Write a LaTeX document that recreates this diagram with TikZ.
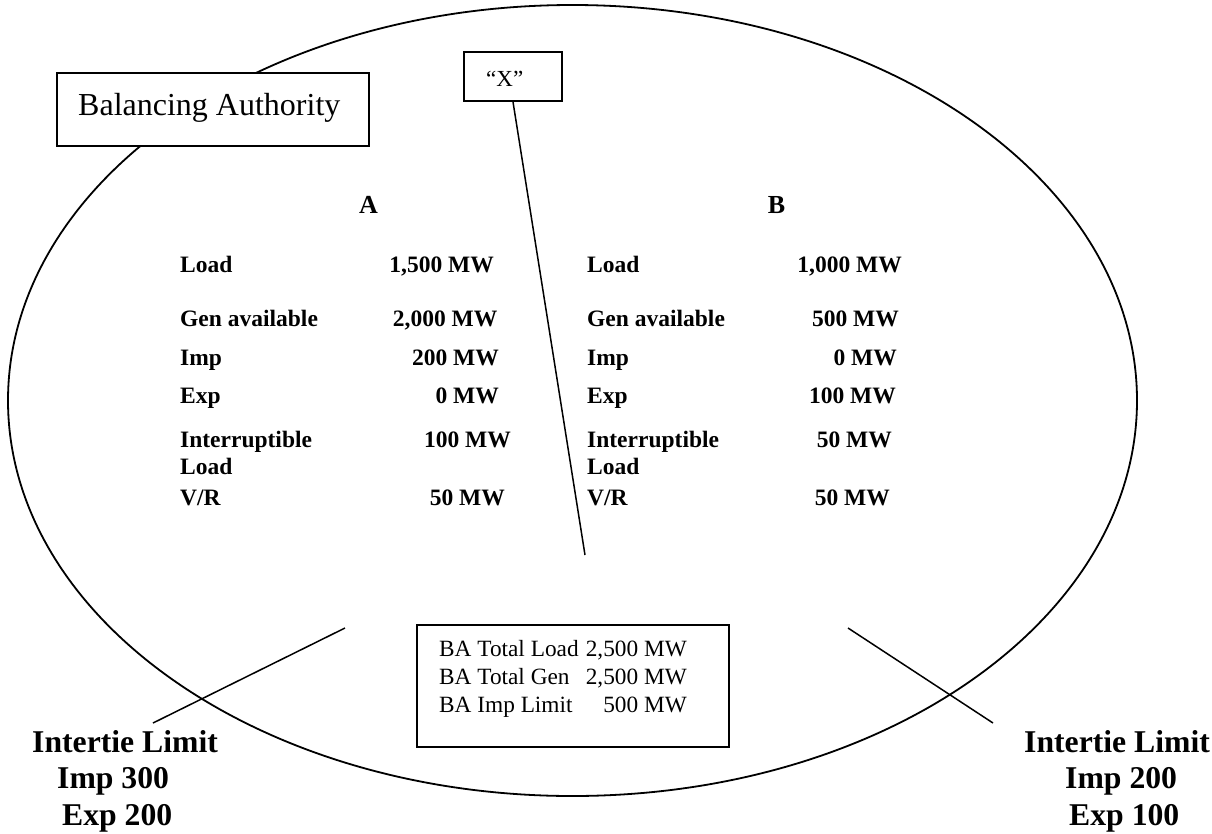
\documentclass[tikz,border=0pt]{standalone}
\usepackage{fontspec}
\setmainfont{Liberation Serif}
\begin{document}
\begin{tikzpicture}[x=1pt,y=-1pt,
  box/.style={draw,line width=1.8pt,inner sep=0pt},
  lbl/.style={anchor=base west,inner sep=0pt,font=\fontsize{23.5}{28}\selectfont\bfseries},
  val/.style={anchor=base east,inner sep=0pt,font=\fontsize{23.5}{28}\selectfont\bfseries},
  head/.style={anchor=base,inner sep=0pt,font=\fontsize{26}{30}\selectfont\bfseries},
  tot/.style={inner sep=0pt,font=\fontsize{23.3}{28}\selectfont},
  inter/.style={anchor=base west,inner sep=0pt,font=\fontsize{31.7}{36}\selectfont\bfseries},
  conn/.style={line width=1.5pt}]
\useasboundingbox (0,0) rectangle (1212,833);
% ellipse
\draw[line width=1.8pt] (572.5,400.5) ellipse [x radius=564.5pt, y radius=395.5pt];
% Balancing Authority box
\node[box,fill=white,minimum width=312pt,minimum height=73pt] (babox) at (213,109.5) {};
\node[anchor=base west,inner sep=0pt,font=\fontsize{32}{36}\selectfont] (batext) at (78,115) {Balancing Authority};
% X box
\node[box,fill=white,minimum width=98pt,minimum height=49pt] (xbox) at (513,76.5) {};
\node[anchor=base west,inner sep=0pt,font=\fontsize{23}{28}\selectfont] (xtext) at (486,86) {“X”};
\coordinate (xend) at (585,555);
\draw[conn] (xbox.south) -- (xend);
% headings
\node[head] (hA) at (368.5,213) {A};
\node[head] (hB) at (776.5,213) {B};
% column A
\node[lbl] (aL1) at (180,272) {Load};
\node[lbl] (aL2) at (180,326) {Gen available};
\node[lbl] (aL3) at (180,365) {Imp};
\node[lbl] (aL4) at (180,403) {Exp};
\node[lbl] (aL5) at (180,447) {Interruptible};
\node[lbl] (aL5b) at (180,474) {Load};
\node[lbl] (aL6) at (180,505) {V/R};
\node[val] (aV1) at (494,272) {1,500 MW};
\node[val] (aV2) at (497.5,326) {2,000 MW};
\node[val] (aV3) at (499,365) {200 MW};
\node[val] (aV4) at (499,403) {0 MW};
\node[val] (aV5) at (511,447) {100 MW};
\node[val] (aV6) at (505,505) {50 MW};
% column B
\node[lbl] (bL1) at (587,272) {Load};
\node[lbl] (bL2) at (587,326) {Gen available};
\node[lbl] (bL3) at (587,365) {Imp};
\node[lbl] (bL4) at (587,403) {Exp};
\node[lbl] (bL5) at (587,447) {Interruptible};
\node[lbl] (bL5b) at (587,474) {Load};
\node[lbl] (bL6) at (587,505) {V/R};
\node[val] (bV1) at (902,272) {1,000 MW};
\node[val] (bV2) at (899,326) {500 MW};
\node[val] (bV3) at (897,365) {0 MW};
\node[val] (bV4) at (896,403) {100 MW};
\node[val] (bV5) at (892,447) {50 MW};
\node[val] (bV6) at (890,505) {50 MW};
% BA totals box
\node[box,fill=white,minimum width=312pt,minimum height=122pt] (totbox) at (573,686) {};
\node[tot,anchor=base west] (t1) at (439,656) {BA Total Load};
\node[tot,anchor=base east] (t1v) at (687,656) {2,500 MW};
\node[tot,anchor=base west] (t2) at (439,684) {BA Total Gen};
\node[tot,anchor=base east] (t2v) at (687,684) {2,500 MW};
\node[tot,anchor=base west] (t3) at (439,712) {BA Imp Limit};
\node[tot,anchor=base east] (t3v) at (687,712) {500 MW};
% intertie connectors
\coordinate (l1) at (345,628);
\coordinate (l2) at (153,723);
\coordinate (r1) at (848,628);
\coordinate (r2) at (993,723);
\draw[conn] (l1) -- (l2);
\draw[conn] (r1) -- (r2);
% intertie labels
\node[inter] (il1) at (32,752) {Intertie Limit};
\node[inter] (il2) at (57,788) {Imp 300};
\node[inter] (il3) at (62,825) {Exp 200};
\node[inter] (ir1) at (1024,752) {Intertie Limit};
\node[inter] (ir2) at (1065,788) {Imp 200};
\node[inter] (ir3) at (1069,825) {Exp 100};
\end{tikzpicture}
\end{document}
